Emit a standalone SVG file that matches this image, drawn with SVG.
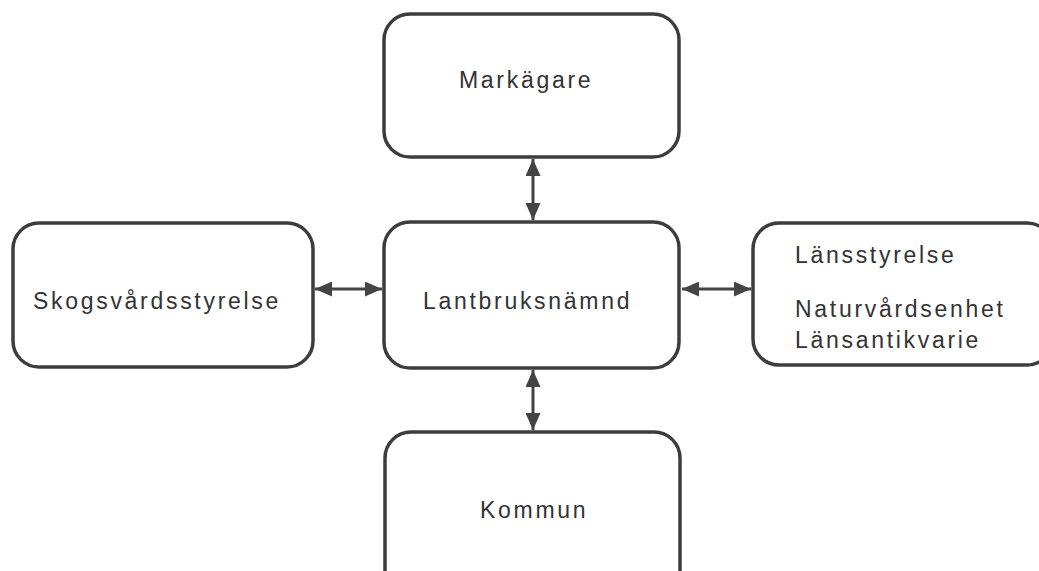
<svg xmlns="http://www.w3.org/2000/svg" width="1039" height="571" viewBox="0 0 1039 571">
<style>
.box{fill:#fff;stroke:#3d3d3d;stroke-width:3.5}
.t{font-family:"Liberation Sans",Arial,sans-serif;font-size:23px;letter-spacing:2.7px;fill:#333}
.c{stroke:#444;stroke-width:3;fill:none}
</style>
<defs>
<marker id="ah" viewBox="0 0 17 15" refX="17" refY="7.5" markerWidth="17" markerHeight="15" markerUnits="userSpaceOnUse" orient="auto-start-reverse">
<path d="M0,0 L17,7.5 L0,15 Z" fill="#444"/>
</marker>
</defs>
<rect width="1039" height="571" fill="#fff"/>
<g id="connectors">
<line class="c" x1="533" y1="159" x2="533" y2="220" marker-start="url(#ah)" marker-end="url(#ah)"/>
<line class="c" x1="533" y1="370" x2="533" y2="430" marker-start="url(#ah)" marker-end="url(#ah)"/>
<line class="c" x1="315" y1="289" x2="382" y2="289" marker-start="url(#ah)" marker-end="url(#ah)"/>
<line class="c" x1="682" y1="289" x2="751" y2="289" marker-start="url(#ah)" marker-end="url(#ah)"/>
</g>
<g id="markagare">
<rect class="box" x="384" y="14" width="295" height="143" rx="26"/>
<text class="t" x="459" y="88">Markägare</text>
</g>
<g id="lantbruksnamnd">
<rect class="box" x="384" y="222" width="295" height="146" rx="26"/>
<text class="t" x="423" y="309">Lantbruksnämnd</text>
</g>
<g id="skogsvardsstyrelse">
<rect class="box" x="13" y="223" width="300" height="144" rx="26"/>
<text class="t" x="33" y="309">Skogsvårdsstyrelse</text>
</g>
<g id="lansstyrelse">
<rect class="box" x="753" y="223" width="300" height="142" rx="26"/>
<text class="t" x="795" y="263">Länsstyrelse</text>
<text class="t" x="795" y="317">Naturvårdsenhet</text>
<text class="t" x="795" y="348">Länsantikvarie</text>
</g>
<g id="kommun">
<rect class="box" x="385" y="432" width="295" height="170" rx="26"/>
<text class="t" x="480" y="518">Kommun</text>
</g>
</svg>
